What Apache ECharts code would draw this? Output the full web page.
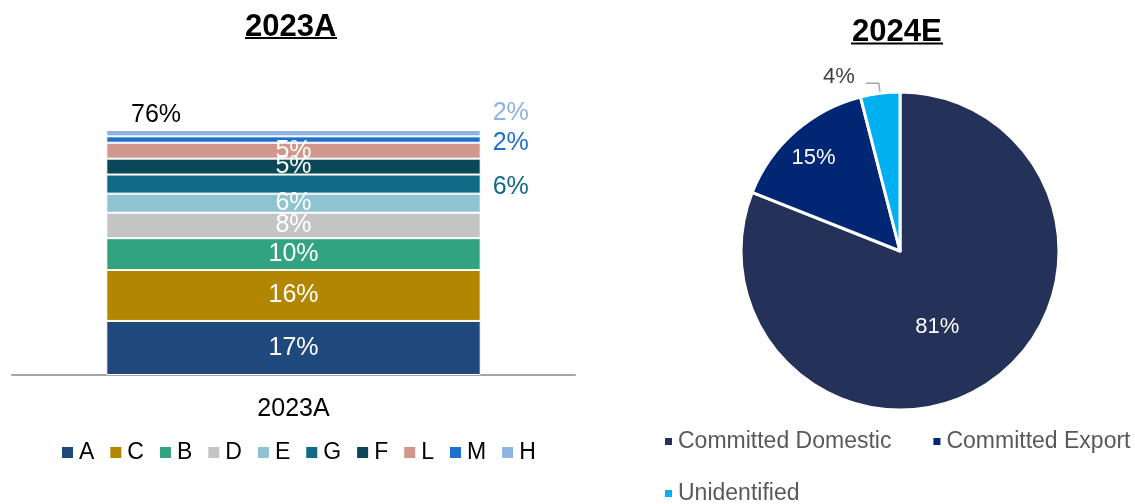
<!DOCTYPE html>
<html>
<head>
<meta charset="utf-8">
<script src="https://cdn.jsdelivr.net/npm/echarts@6/dist/echarts.min.js"></script>
<style>
  html, body { margin: 0; padding: 0; background: #fff; }
  #chart { width: 1135px; height: 504px; }
</style>
</head>
<body>
<div id="chart"></div>
<script>
// Stacked bar: capacity mix for 2023A
const barCategories = ['2023A'];
const segmentNames = ['A', 'C', 'B', 'D', 'E', 'G', 'F', 'L', 'M', 'H'];
const segmentValues = [17, 16, 10, 8, 6, 6, 5, 5, 2, 2];
const totalLabel = '76%';

// Segments whose value label sits to the right of the bar
const sideLabelSegments = ['G', 'M', 'H'];

// Pie: 2024E commitment split
const pieNames = ['Committed Domestic', 'Committed Export', 'Unidentified'];
const pieValues = [81, 15, 4];

const segmentColors = ['#1f497d', '#b38600', '#32a37f', '#c4c4c4', '#8fc3d2',
                       '#106a86', '#0a4759', '#d2978c', '#1f6fcf', '#8db3e2'];
const pieColors = ['#243159', '#012673', '#00b0f0'];

const FONT = '"Liberation Sans", Arial, sans-serif';

// Vertical nudges for the side labels of the thin top segments
const sideLabelOffsets = { G: [0, 3], M: [0, 4], H: [0, -20] };

const barSeries = segmentNames.map((name, i) => {
  const side = sideLabelSegments.includes(name);
  return {
    name: name,
    type: 'bar',
    stack: 'total',
    barCategoryGap: '33.5%',
    data: [segmentValues[i]],
    itemStyle: { color: segmentColors[i], borderColor: '#ffffff', borderWidth: 1 },
    label: {
      show: true,
      position: side ? 'right' : 'inside',
      distance: 12,
      offset: sideLabelOffsets[name] || [0, 0],
      formatter: '{c}%',
      color: side ? segmentColors[i] : '#ffffff',
      fontFamily: FONT,
      fontSize: 25
    }
  };
});

// Pie label placement: a blank spacer line above/below moves the value text
// vertically, right padding moves it left.
const pieLabelLayout = {
  'Committed Domestic': { spacer: 'above', rich: 'sp16', padding: [0, 18, 0, 0] },
  'Committed Export':   { spacer: 'below', rich: 'sp62', padding: [0, 64, 0, 0] },
  'Unidentified':       { spacer: 'below', rich: 'sp12', padding: [0, 6, 0, 0] }
};

const pieData = pieNames.map((name, i) => {
  const item = {
    name: name,
    value: pieValues[i],
    itemStyle: { color: pieColors[i] },
    label: { padding: pieLabelLayout[name].padding }
  };
  if (name === 'Unidentified') {
    item.label.position = 'outside';
    item.label.color = '#404040';
    item.labelLine = {
      show: true, length: 10, length2: 13,
      lineStyle: { color: '#a6a6a6', width: 1.5 }
    };
  }
  return item;
});

const chart = echarts.init(document.getElementById('chart'), null, { renderer: 'canvas' });

chart.setOption({
  animation: false,
  backgroundColor: '#ffffff',
  textStyle: { fontFamily: FONT },
  title: [
    {
      text: '2023A', left: 245, top: 12, padding: 0,
      textStyle: { fontSize: 31, fontWeight: 'bold', color: '#000', fontFamily: FONT }
    },
    {
      text: '2024E', left: 852, top: 17, padding: 0,
      textStyle: { fontSize: 31, fontWeight: 'bold', color: '#000', fontFamily: FONT }
    },
    {
      text: totalLabel, left: 131, top: 103, padding: 0,
      textStyle: { fontSize: 25, fontWeight: 'normal', color: '#000', fontFamily: FONT }
    }
  ],
  graphic: [
    { type: 'line', shape: { x1: 245, y1: 38, x2: 337, y2: 38 }, style: { stroke: '#000', lineWidth: 2 } },
    { type: 'line', shape: { x1: 851, y1: 43.5, x2: 943, y2: 43.5 }, style: { stroke: '#000', lineWidth: 2 } }
  ],
  legend: [
    {
      data: segmentNames,
      left: 60, top: 441, padding: 0,
      icon: 'rect', itemWidth: 13, itemHeight: 13, itemGap: 14,
      textStyle: { fontSize: 23, color: '#000', fontFamily: FONT }
    },
    {
      data: pieNames.slice(0, 2),
      left: 663, top: 430, padding: 0, width: 472,
      icon: 'rect', itemWidth: 9, itemHeight: 9, itemGap: 40,
      textStyle: { fontSize: 23, color: '#595959', fontFamily: FONT }
    },
    {
      data: pieNames.slice(2),
      left: 663, top: 482, padding: 0,
      icon: 'rect', itemWidth: 9, itemHeight: 9,
      textStyle: { fontSize: 23, color: '#595959', fontFamily: FONT }
    }
  ],
  grid: { left: 12, right: 560, top: 130, bottom: 129, containLabel: false },
  xAxis: {
    type: 'category',
    data: barCategories,
    axisLine: { lineStyle: { color: '#a6a6a6', width: 2 } },
    axisTick: { show: false },
    axisLabel: { fontSize: 25, color: '#000', margin: 22, fontFamily: FONT }
  },
  yAxis: {
    type: 'value', min: 0, max: 77, show: false,
    splitLine: { show: false }
  },
  series: barSeries.concat([
    {
      name: '2024E',
      type: 'pie',
      center: [900, 251],
      radius: 159,
      startAngle: 90,
      clockwise: true,
      avoidLabelOverlap: false,
      itemStyle: { borderColor: '#ffffff', borderWidth: 3 },
      label: {
        show: true,
        position: 'inside',
        color: '#ffffff',
        fontSize: 22,
        fontFamily: FONT,
        formatter: function (p) {
          const lay = pieLabelLayout[p.name];
          const spacer = '{' + lay.rich + '| }';
          const text = p.value + '%';
          return lay.spacer === 'above' ? spacer + '\n' + text : text + '\n' + spacer;
        },
        rich: {
          sp12: { lineHeight: 12, fontSize: 10 },
          sp16: { lineHeight: 16, fontSize: 10 },
          sp62: { lineHeight: 62, fontSize: 10 }
        }
      },
      data: pieData
    }
  ])
});
</script>
</body>
</html>
